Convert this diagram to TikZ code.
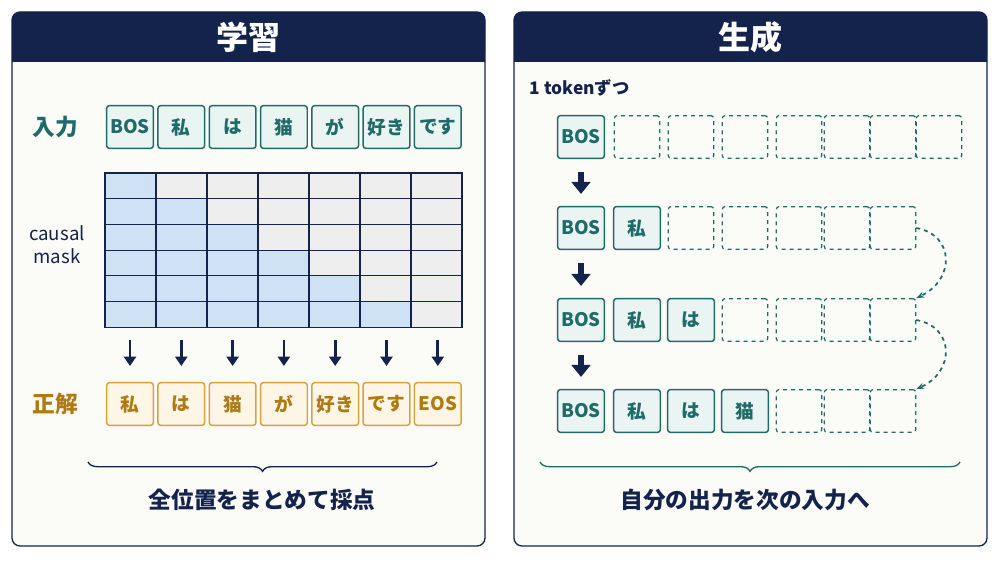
\documentclass[tikz,border=0pt]{standalone}
\usepackage{fontspec}
\setmainfont{Noto Sans CJK JP}
\usetikzlibrary{positioning, arrows.meta, decorations.pathreplacing}

\definecolor{navy}{HTML}{14234B}
\definecolor{teal}{HTML}{1F6B68}
\definecolor{tealfill}{HTML}{EAF4F2}
\definecolor{amber}{HTML}{B07A12}
\definecolor{amberline}{HTML}{D9A33A}
\definecolor{amberfill}{HTML}{FDF6E6}
\definecolor{cellblue}{HTML}{CFE2F5}
\definecolor{cellgray}{HTML}{EEEEEE}
\definecolor{panelbg}{HTML}{FBFBF8}

\tikzset{
    tok/.style={draw=teal, fill=tealfill, text=teal, line width=1.1pt, rounded corners=2pt,
        minimum width=35pt, minimum height=32pt, inner sep=0pt, font=\fontsize{14}{14}\selectfont\bfseries},
    ans/.style={tok, draw=amberline, fill=amberfill, text=amber},
    slot/.style={draw=teal, dashed, line width=0.9pt, rounded corners=2pt,
        minimum width=34pt, minimum height=32pt},
    rowlabel/.style={font=\fontsize{17}{17}\selectfont\bfseries},
    down/.style={-{Triangle[width=9pt,length=7pt]}, line width=2pt, navy},
    bigdown/.style={-{Triangle[width=14pt,length=9pt]}, line width=4pt, navy},
    brace/.style={decorate, decoration={brace, amplitude=7pt, mirror}, line width=1pt},
}

\begin{document}
\begin{tikzpicture}[x=0.75pt, y=-0.75pt]
    \useasboundingbox (0,0) rectangle (1000,563);

    % panels
    \foreach \px/\title in {12/学習, 514/生成} {
        \draw[navy, fill=panelbg, line width=1pt, rounded corners=6pt] (\px,12) rectangle ++(473,534);
        \fill[navy, rounded corners=6pt] (\px,12) rectangle ++(473,50);
        \fill[navy] (\px,40) rectangle ++(473,22);
        \node[white, font=\fontsize{24}{24}\selectfont\bfseries] at (\px+236.5,37) {\title};
    }

    % left: input row
    \node[rowlabel, text=teal] (inlabel) at (55,127) {入力};
    \foreach \t [count=\i from 0] in {BOS,私,は,猫,が,好き,です}
        \node[tok] (in\i) at (130+\i*51.3,127) {\t};

    % causal mask grid
    \foreach \r in {0,...,5}
        \foreach \c in {0,...,6} {
            \pgfmathsetmacro{\cellc}{\c<=\r ? "cellblue" : "cellgray"}
            \filldraw[fill=\cellc, draw=navy, line width=0.8pt]
                (105+\c*51,173+\r*25.7) rectangle ++(51,25.7);
        }
    \node[navy, align=center, font=\fontsize{14}{17}\selectfont] (masklabel) at (57,245) {causal\\mask};

    % answer row
    \node[rowlabel, text=amber] (anslabel) at (55,404) {正解};
    \foreach \t [count=\i from 0] in {私,は,猫,が,好き,です,EOS} {
        \node[ans] (ans\i) at (130+\i*51.3,404) {\t};
        \coordinate (top\i) at (130+\i*51.3,340);
        \draw[down] (top\i) -- (ans\i.north |- 0,366);
    }

    % left brace
    \coordinate (lb1) at (88,462);
    \coordinate (lb2) at (437,462);
    \draw[brace, navy] (lb1) -- (lb2);
    \node[navy, font=\fontsize{17}{17}\selectfont\bfseries] (lsum) at (262,500) {全位置をまとめて採点};

    % right: generation rows
    \node[navy, anchor=west, font=\fontsize{13}{13}\selectfont\bfseries] (step) at (525,88) {1 tokenずつ};
    \foreach \row/\y/\n in {1/137/1, 2/228/2, 3/320/3, 4/411/4} {
        \foreach \t/\cx [count=\i from 0] in {BOS/581,私/637,は/691,猫/745} {
            \ifnum\i<\n \node[tok] (g\row-\i) at (\cx,\y) {\t}; \fi
        }
        \foreach \cx [count=\k from 0] in {581,637,691,745,799,847,893,939} {
            \ifnum\k<\n\else
                \ifnum\row=1 \node[slot] (g\row-\k) at (\cx,\y) {};
                \else\ifnum\k<7 \node[slot] (g\row-\k) at (\cx,\y) {}; \fi\fi
            \fi
        }
    }
    \foreach \a/\b in {1/2, 2/3, 3/4}
        \draw[bigdown] ([yshift=-10pt]g\a-0.south) -- ([yshift=9pt]g\b-0.north);

    % feedback arrows
    \draw[teal, dashed, line width=1.3pt, -{Stealth[length=6pt]}]
        (g2-6.east) .. controls (955,235) and (955,280) .. (g3-6.north east);
    \draw[teal, dashed, line width=1.3pt, -{Stealth[length=6pt]}]
        (g3-6.east) .. controls (955,327) and (955,372) .. (g4-6.north east);

    % right brace
    \coordinate (rb1) at (540,462);
    \coordinate (rb2) at (960,462);
    \draw[brace, teal] (rb1) -- (rb2);
    \node[navy, font=\fontsize{17}{17}\selectfont\bfseries] (rsum) at (745,500) {自分の出力を次の入力へ};
\end{tikzpicture}
\end{document}
